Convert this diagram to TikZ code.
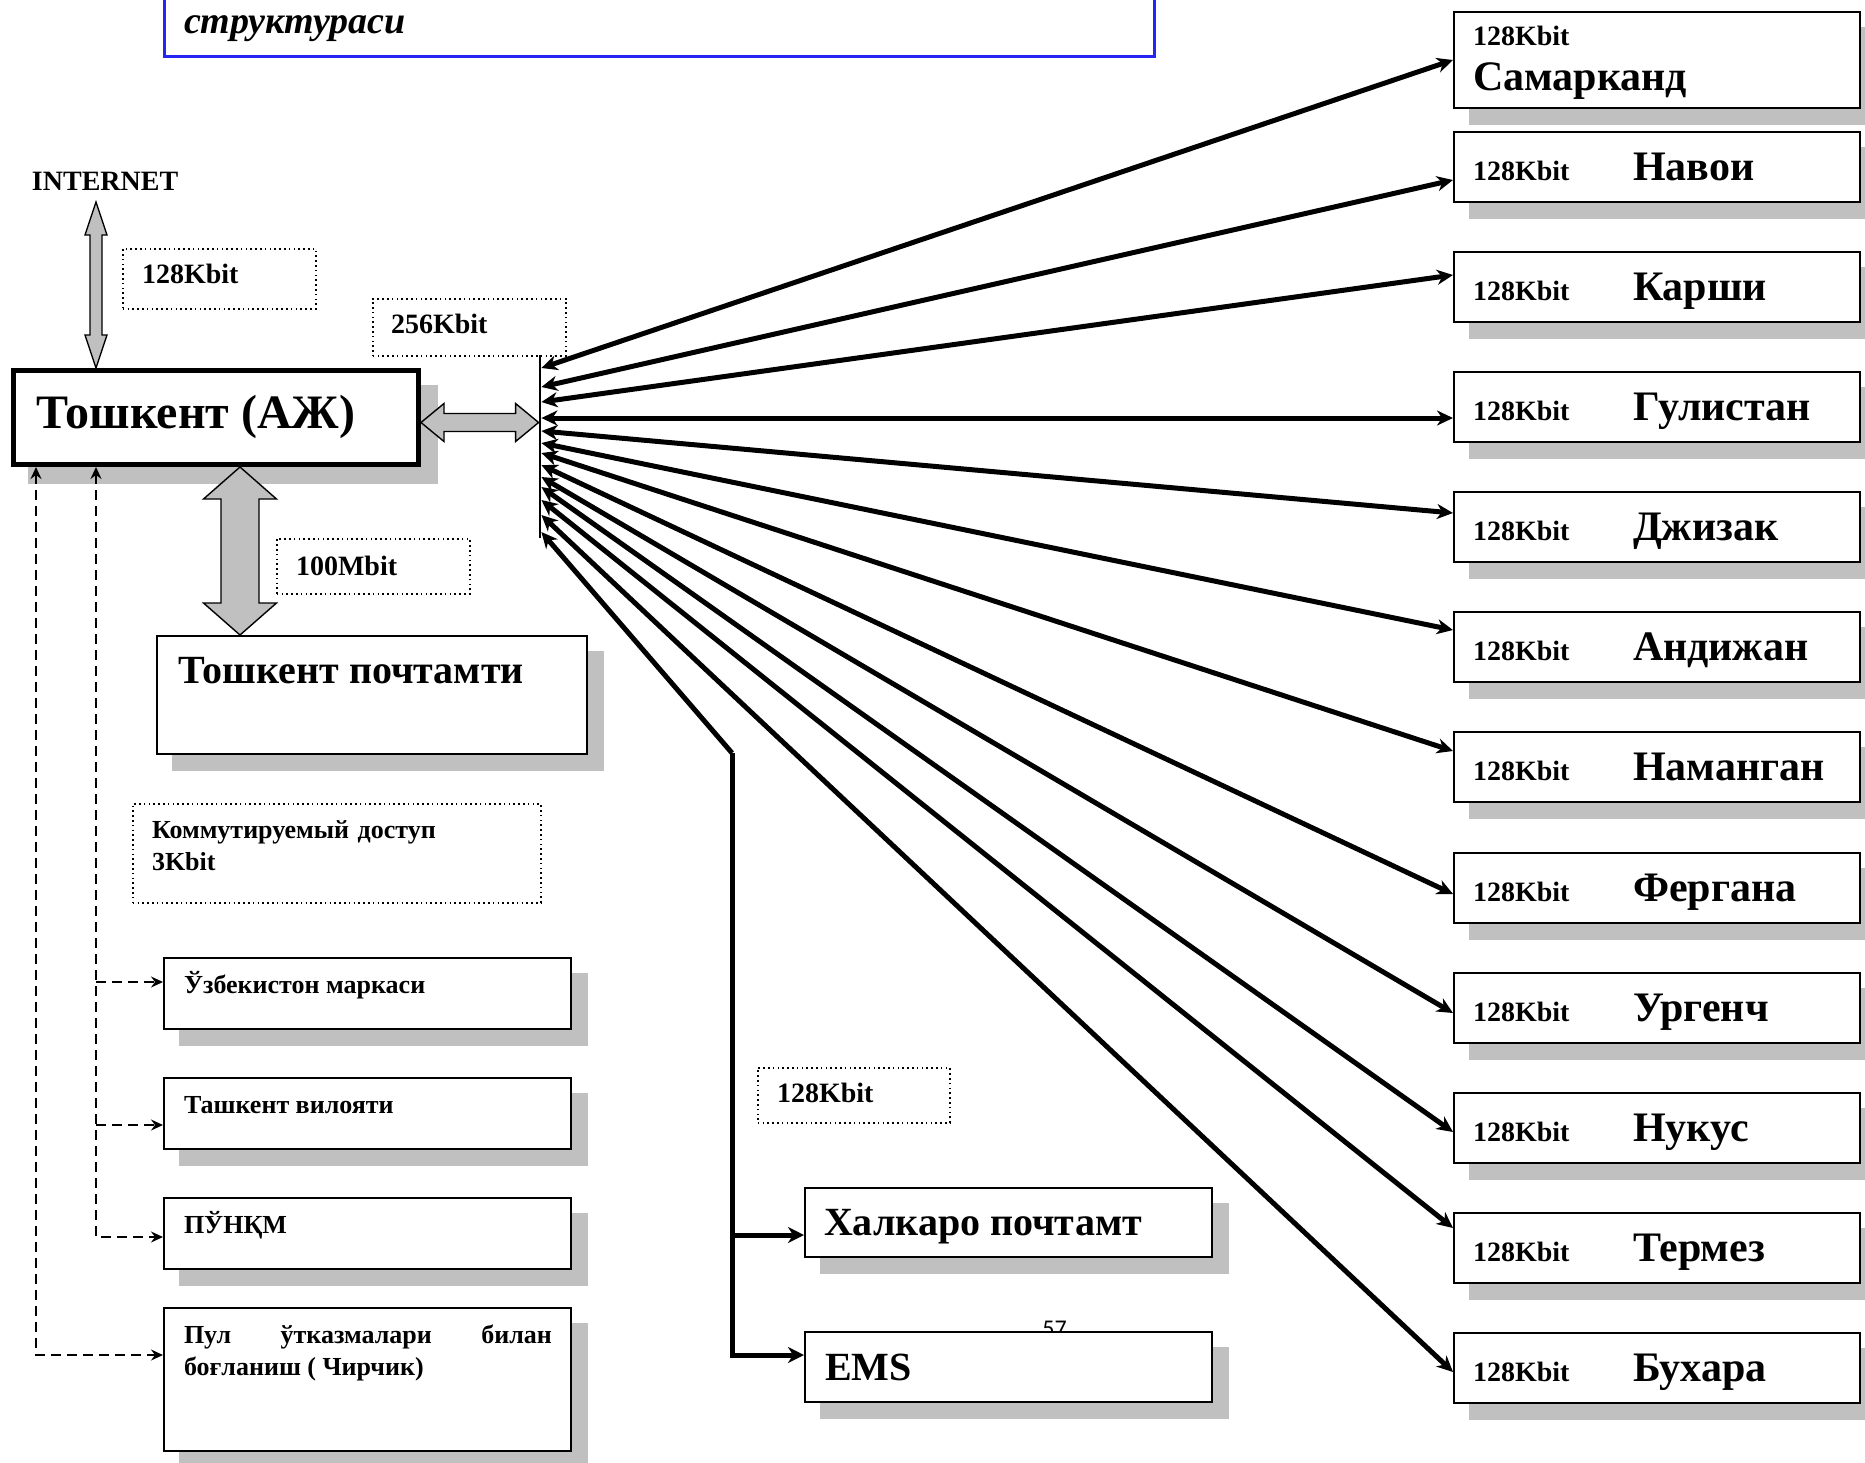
\documentclass[tikz,border=0pt]{standalone}
\usepackage{fontspec}
\setmainfont{Liberation Serif}
\newfontfamily\pagenumfont{Carlito}
\usetikzlibrary{calc,arrows.meta,backgrounds}

\newlength{\du}
\setlength{\du}{0.5pt}

\definecolor{dialinecolor}{rgb}{0.000000, 0.000000, 0.000000}
\definecolor{diashadowcolor}{rgb}{0.752941, 0.752941, 0.752941}
\definecolor{diablockcolor}{rgb}{0.752941, 0.752941, 0.752941}
\definecolor{diatitlecolor}{rgb}{0.150000, 0.150000, 0.950000}

% gray two-headed block arrows, tip to tip
\newcommand{\vblockarrow}[5]{%
  \draw[blockarrow] (#1) -- ($(#1)+(#4,#5)$) -- ($(#1)+(#3,#5)$)
    -- ($(#2)+(#3,-#5)$) -- ($(#2)+(#4,-#5)$) -- (#2)
    -- ($(#2)+(-#4,-#5)$) -- ($(#2)+(-#3,-#5)$)
    -- ($(#1)+(-#3,#5)$) -- ($(#1)+(-#4,#5)$) -- cycle;}
\newcommand{\hblockarrow}[5]{%
  \draw[blockarrow] (#1) -- ($(#1)+(#5,-#4)$) -- ($(#1)+(#5,-#3)$)
    -- ($(#2)+(-#5,-#3)$) -- ($(#2)+(-#5,-#4)$) -- (#2)
    -- ($(#2)+(-#5,#4)$) -- ($(#2)+(-#5,#3)$)
    -- ($(#1)+(#5,#3)$) -- ($(#1)+(#5,#4)$) -- cycle;}

\begin{document}
\begin{tikzpicture}[
  box/.style={draw=dialinecolor, line width=1pt, fill=white, inner sep=0pt, anchor=north west},
  mainbox/.style={box, line width=2.5pt},
  ratebox/.style={draw=dialinecolor, line width=0.8pt, dash pattern=on 0.8pt off 1.6pt, inner sep=0pt, anchor=north west},
  txt/.style={anchor=base west, inner sep=0pt, outer sep=0pt, text=dialinecolor},
  smalltxt/.style={txt, font=\fontsize{13}{16}\selectfont\bfseries},
  ratetxt/.style={txt, font=\fontsize{14}{17}\selectfont\bfseries},
  bigtxt/.style={txt, font=\fontsize{20}{24}\selectfont\bfseries},
  citytxt/.style={txt, font=\fontsize{21}{25}\selectfont\bfseries},
  maintxt/.style={txt, font=\fontsize{24}{29}\selectfont\bfseries},
  blockarrow/.style={draw=dialinecolor, line width=0.7pt, fill=diablockcolor, line join=miter},
  fanarrow/.style={line width=2.5pt, {Stealth[length=8pt,width=7.5pt,inset=2.5pt]}-{Stealth[length=8pt,width=7.5pt,inset=2.5pt]}},
  feedarrow/.style={line width=2.5pt, line join=miter, -{Stealth[length=8pt,width=8pt,inset=2.5pt]}},
  dasharrow/.style={line width=0.8pt, dash pattern=on 5pt off 3pt, >={Stealth[length=6pt,width=5.5pt,inset=2pt]}, ->},
]
\pgftransformyscale{-1.000000}
\useasboundingbox (0\du,0\du) rectangle (1865\du,1463\du);

% title frame, cut by the page top
\node[draw=diatitlecolor, line width=1.5pt, inner sep=0pt, minimum width=990\du, minimum height=80\du, anchor=south west] (title) at (163\du,58\du) {};
\node[txt, font=\fontsize{19}{23}\selectfont\bfseries\itshape] (titletext) at (184\du,33\du) {структураси};

% Toshkent centre
\node[txt, font=\fontsize{14}{17}\selectfont\bfseries] (inet) at (32\du,190\du) {INTERNET};
\node[mainbox, minimum width=405\du, minimum height=94\du] (tash) at (11\du,368\du) {};
\node[maintxt] (tashtext) at (36\du,428\du) {Тошкент (АЖ)};
\node[box, minimum width=430\du, minimum height=118\du] (post) at (156\du,635\du) {};
\node[bigtxt] (posttext) at (178\du,683\du) {Тошкент почтамти};

% rate labels
\node[ratebox, minimum width=193\du, minimum height=60\du] (rinet) at (122\du,248\du) {};
\node[ratetxt] (rinettext) at (142\du,283\du) {128Kbit};
\node[ratebox, minimum width=193\du, minimum height=57\du] (rlink) at (372\du,298\du) {};
\node[ratetxt] (rlinktext) at (391\du,333\du) {256Kbit};
\node[ratebox, minimum width=193\du, minimum height=55\du] (rpost) at (276\du,538\du) {};
\node[ratetxt] (rposttext) at (296\du,575\du) {100Mbit};
\node[ratebox, minimum width=408\du, minimum height=99\du] (rdial) at (132\du,803\du) {};
\node[smalltxt, text width=380\du, align=left] (rdialtext) at (152\du,838\du) {Коммутируемый доступ\\3Kbit};
\node[ratebox, minimum width=192\du, minimum height=55\du] (rintl) at (757\du,1067\du) {};
\node[ratetxt] (rintltext) at (777\du,1102\du) {128Kbit};

% dial-up offices
\node[box, minimum width=407\du, minimum height=71\du] (uzm) at (163\du,957\du) {};
\node[smalltxt] (uzmtext) at (184\du,993\du) {Ўзбекистон маркаси};
\node[box, minimum width=407\du, minimum height=71\du] (tvil) at (163\du,1077\du) {};
\node[smalltxt] (tviltext) at (184\du,1113\du) {Ташкент вилояти};
\node[box, minimum width=407\du, minimum height=71\du] (punk) at (163\du,1197\du) {};
\node[smalltxt] (punktext) at (184\du,1233\du) {ПЎНҚМ};
\node[box, minimum width=407\du, minimum height=143\du] (pul) at (163\du,1307\du) {};
\node[smalltxt, text width=368\du, align=justify] (pultext) at (184\du,1343\du) {Пул ўтказмалари билан боғланиш ( Чирчик)};

% international and EMS
\node[box, minimum width=407\du, minimum height=69\du] (intl) at (804\du,1187\du) {};
\node[bigtxt] (intltext) at (824\du,1235\du) {Халкаро почтамт};
\node[anchor=base west, inner sep=0pt, font=\pagenumfont\fontsize{12}{14}\selectfont] (pagenum) at (1042\du,1336\du) {57};
\node[box, minimum width=407\du, minimum height=70\du] (ems) at (804\du,1331\du) {};
\node[bigtxt] (emstext) at (825\du,1380\du) {EMS};

% regional centres
\node[box, minimum width=406\du, minimum height=96\du] (sam) at (1453\du,11\du) {};
\node[ratetxt] (sam-rate) at ($(sam.north west)+(20\du,34\du)$) {128Kbit};
\node[citytxt] (sam-name) at ($(sam.north west)+(20\du,79\du)$) {Самарканд};
\foreach \c/\t/\k in {nav/Навои/131, kar/Карши/251, gul/Гулистан/371, jiz/Джизак/491, andj/Андижан/611,
    nam/Наманган/731, fer/Фергана/852, urg/Ургенч/972, nuk/Нукус/1092, ter/Термез/1212, buh/Бухара/1332}{
  \node[box, minimum width=406\du, minimum height=70\du] (\c) at (1453\du,\k\du) {};
  \node[ratetxt] (\c-rate) at ($(\c.north west)+(20\du,49\du)$) {128Kbit};
  \node[citytxt] (\c-name) at ($(\c.north west)+(180\du,49\du)$) {\t};
}

% shadows
\begin{scope}[on background layer]
\fill[diashadowcolor] ($(tash.north west)+(17\du,17\du)$) rectangle ($(tash.south east)+(17\du,17\du)$);
\foreach \n in {post,uzm,tvil,punk,pul,intl,ems,sam,nav,kar,gul,jiz,andj,nam,fer,urg,nuk,ter,buh}
  \fill[diashadowcolor] ($(\n.north west)+(16\du,16\du)$) rectangle ($(\n.south east)+(16\du,16\du)$);
\end{scope}

% hub bar
\node[fill=dialinecolor, inner sep=0pt, minimum width=2\du, minimum height=183\du, anchor=north] (bar) at (540\du,355\du) {};

% block arrows
\coordinate (inetA) at (96\du,202\du);
\coordinate (inetB) at (inetA |- tash.north);
\vblockarrow{inetA}{inetB}{6\du}{11\du}{33\du}
\coordinate (linkA) at ($(tash.east)+(0,5\du)$);
\coordinate (linkB) at (bar.west |- linkA);
\hblockarrow{linkA}{linkB}{9\du}{19\du}{23\du}
\coordinate (postA) at ($(tash.south)+(24\du,0)$);
\coordinate (postB) at (postA |- post.north);
\vblockarrow{postA}{postB}{19\du}{36.5\du}{32\du}

% fan to the regions
\foreach \c/\d/\e in {sam/13/49, nav/32/49, kar/47/24, gul/63/47, jiz/76/22, andj/88/19,
    nam/98/20, fer/110/42, urg/122/41, nuk/132/40, ter/145/16, buh/160/40}
  \draw[fanarrow] ($(bar.north east)+(0,\d\du)$) -- ($(\c.north west)+(0,\e\du)$);

% branch to international and EMS
\coordinate (emsbend) at (732\du,753\du);
\coordinate (intlin) at ($(intl.north west)+(0,48\du)$);
\coordinate (emsin) at ($(ems.north west)+(0,24\du)$);
\draw[line width=2.5pt, {Stealth[length=8pt,width=7.5pt,inset=2.5pt]}-] ($(bar.north east)+(0,177\du)$) -- (emsbend);
\draw[feedarrow] (emsbend) -- (emsbend |- emsin) -- (emsin);
\draw[feedarrow] (emsbend |- intlin) -- (intlin);

% dial-up lines
\coordinate (busA) at (36\du,0\du);
\coordinate (busB) at (96\du,0\du);
\coordinate (uzmin) at ($(uzm.north west)+(0,25\du)$);
\coordinate (tvilin) at ($(tvil.north west)+(0,48\du)$);
\coordinate (punkin) at ($(punk.north west)+(0,40\du)$);
\coordinate (pulin) at ($(pul.north west)+(0,48\du)$);
\draw[dasharrow, <->] (busA |- tash.south) -- (busA |- pulin) -- (pulin);
\draw[dasharrow, <->] (busB |- tash.south) -- (busB |- punkin) -- (punkin);
\draw[dasharrow] (busB |- uzmin) -- (uzmin);
\draw[dasharrow] (busB |- tvilin) -- (tvilin);
\end{tikzpicture}
\end{document}
